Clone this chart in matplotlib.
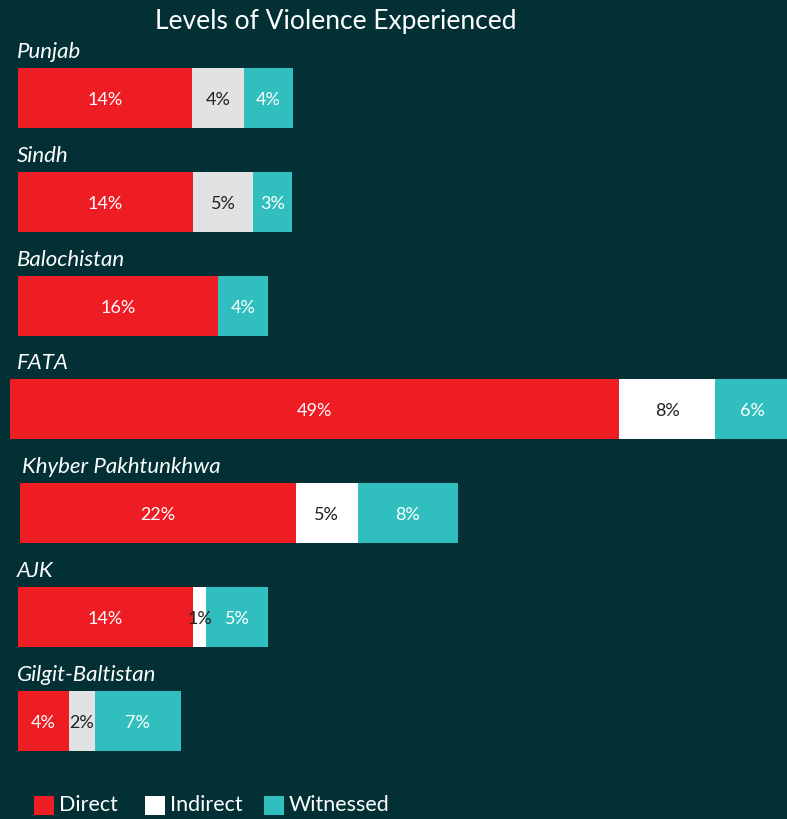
import matplotlib
matplotlib.use('Agg')
import matplotlib.pyplot as plt
from matplotlib.patches import Rectangle

# data
regions = ['Punjab', 'Sindh', 'Balochistan', 'FATA', 'Khyber Pakhtunkhwa', 'AJK', 'Gilgit-Baltistan']
direct = [14.0, 14.1, 16.1, 49.0, 22.2, 14.1, 4.1]
indirect = [4.2, 4.8, 0.0, 7.8, 5.0, 1.05, 2.1]
witnessed = [3.95, 3.2, 4.0, 6.0, 8.05, 5.0, 6.9]

# style
BG = '#023035'
RED = '#ee1d24'
TEAL = '#30bfbe'
WHITE = '#ffffff'
GREY = '#e1e2e4'
DARK = '#231f20'
indirect_colors = [GREY, GREY, GREY, WHITE, WHITE, WHITE, GREY]
left_px = [18, 18, 18, 10, 20, 18, 18]
label_px = [17, 17, 17, 17, 22, 17, 17]

W, H = 787, 820
PX = 12.42  # pixels per percent
FONT = 'Lato'

fig = plt.figure(figsize=(W / 100, H / 100), dpi=100, facecolor=BG)
ax = fig.add_axes([0, 0, 1, 1])
ax.set_facecolor(BG)
ax.set_xlim(0, W)
ax.set_ylim(H, 0)
ax.axis('off')

bar_h = 60
for i, name in enumerate(regions):
    top = 69 + i * 103.8
    cy = top + bar_h / 2 + 1
    x = left_px[i]
    segs = [(direct[i], RED, WHITE), (indirect[i], indirect_colors[i], DARK), (witnessed[i], TEAL, WHITE)]
    for val, col, tcol in segs:
        if val <= 0:
            continue
        w = val * PX
        ax.add_patch(Rectangle((x, top), w, bar_h, facecolor=col, edgecolor='none'))
        tx = min(x + w / 2, 752)
        ax.text(tx, cy, f"{val:.0f}%", color=tcol, fontsize=13, ha='center', va='center', family=FONT)
        x += w
    ax.text(label_px[i], top - 17, name, color=WHITE, fontsize=16, fontstyle='italic',
            ha='left', va='center', family=FONT)

ax.text(336, 22, 'Levels of Violence Experienced', color=WHITE, fontsize=19,
        ha='center', va='center', family=FONT)

# legend (kept just inside the bottom edge)
legend_items = [('Direct', RED, 34), ('Indirect', WHITE, 145), ('Witnessed', TEAL, 264)]
for lab, col, lx in legend_items:
    ax.add_patch(Rectangle((lx, 797), 20, 19, facecolor=col, edgecolor='none'))
    ax.text(lx + 25, 805, lab, color=WHITE, fontsize=15.5, ha='left', va='center', family=FONT)

fig.savefig('out.png', dpi=100, facecolor=BG)
